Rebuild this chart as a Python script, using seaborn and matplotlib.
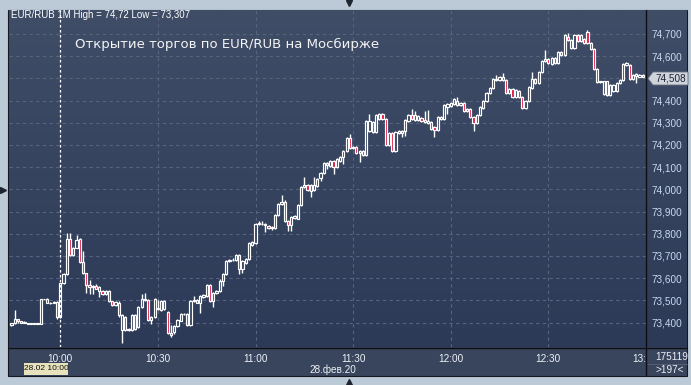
import numpy as np
import pandas as pd
import seaborn as sns
import matplotlib
matplotlib.use("Agg")
import matplotlib.pyplot as plt
from matplotlib.patches import Rectangle, Polygon
from matplotlib.colors import LinearSegmentedColormap
from matplotlib.ticker import FuncFormatter
from matplotlib.transforms import Bbox, TransformedBbox, IdentityTransform

# 1-minute candles, 28.02.2020 from 09:45
opens = [
    73.390, 73.398, 73.415, 73.405, 73.400, 73.395, 73.395, 73.395, 73.395, 73.395, 73.505, 73.505, 73.490, 73.488, 73.492,
    73.425, 73.578, 73.618, 73.775, 73.705, 73.737, 73.775, 73.673, 73.623, 73.569,
    73.562, 73.567, 73.542, 73.542, 73.530, 73.540, 73.495, 73.480, 73.490, 73.367,
    73.425, 73.367, 73.367, 73.434, 73.380, 73.470, 73.506, 73.502, 73.412, 73.425,
    73.465, 73.457, 73.460, 73.448, 73.353, 73.358, 73.385, 73.407, 73.439, 73.439,
    73.389, 73.497, 73.502, 73.490, 73.515, 73.520, 73.569, 73.497, 73.533, 73.542,
    73.588, 73.619, 73.678, 73.680, 73.682, 73.705, 73.642, 73.670, 73.687, 73.750,
    73.759, 73.845, 73.842, 73.838, 73.835, 73.825, 73.826, 73.885, 73.935, 73.945,
    73.857, 73.840, 73.870, 73.868, 73.930, 74.011, 74.020, 74.020, 73.997, 74.016,
    74.051, 74.074, 74.119, 74.106, 74.128, 74.101, 74.128, 74.146, 74.173, 74.232,
    74.187, 74.191, 74.164, 74.173, 74.155, 74.263, 74.304, 74.259, 74.317, 74.340,
    74.317, 74.200, 74.254, 74.173, 74.255, 74.256, 74.263, 74.308, 74.335, 74.313,
    74.313, 74.322, 74.305, 74.300, 74.304, 74.281, 74.268, 74.318, 74.318, 74.371,
    74.375, 74.385, 74.398, 74.380, 74.389, 74.353, 74.362, 74.326, 74.299, 74.335,
    74.367, 74.398, 74.434, 74.457, 74.493, 74.493, 74.506, 74.493, 74.434, 74.452,
    74.416, 74.443, 74.416, 74.367, 74.398, 74.457, 74.497, 74.479, 74.529, 74.578,
    74.587, 74.565, 74.591, 74.569, 74.619, 74.605, 74.686, 74.637, 74.637, 74.695,
    74.669, 74.677, 74.709, 74.660, 74.633, 74.542, 74.482, 74.430, 74.486, 74.425,
    74.443, 74.443, 74.479, 74.493, 74.560, 74.560, 74.497, 74.511, 74.508, 74.515,
]
highs = [
    73.400, 73.455, 73.418, 73.408, 73.405, 73.396, 73.396, 73.396, 73.396, 73.508, 73.506, 73.510, 73.492, 73.495, 73.495,
    73.580, 73.622, 73.802, 73.805, 73.740, 73.795, 73.780, 73.722, 73.625, 73.592,
    73.570, 73.572, 73.565, 73.545, 73.545, 73.545, 73.498, 73.495, 73.495, 73.440,
    73.430, 73.375, 73.438, 73.438, 73.475, 73.529, 73.533, 73.506, 73.428, 73.510,
    73.502, 73.500, 73.502, 73.452, 73.389, 73.389, 73.415, 73.442, 73.442, 73.442,
    73.500, 73.520, 73.505, 73.522, 73.528, 73.572, 73.573, 73.536, 73.545, 73.595,
    73.622, 73.682, 73.688, 73.690, 73.708, 73.710, 73.682, 73.690, 73.762, 73.766,
    73.848, 73.858, 73.858, 73.850, 73.840, 73.835, 73.888, 73.938, 73.975, 73.950,
    73.860, 73.880, 73.884, 73.934, 74.015, 74.056, 74.024, 74.024, 74.056, 74.050,
    74.078, 74.122, 74.125, 74.132, 74.132, 74.140, 74.150, 74.177, 74.236, 74.250,
    74.196, 74.196, 74.177, 74.177, 74.312, 74.340, 74.308, 74.340, 74.344, 74.344,
    74.320, 74.258, 74.258, 74.263, 74.267, 74.267, 74.316, 74.340, 74.362, 74.353,
    74.334, 74.326, 74.353, 74.358, 74.308, 74.285, 74.330, 74.330, 74.384, 74.389,
    74.393, 74.411, 74.416, 74.393, 74.393, 74.366, 74.366, 74.330, 74.339, 74.375,
    74.402, 74.438, 74.461, 74.501, 74.515, 74.510, 74.524, 74.497, 74.456, 74.456,
    74.452, 74.447, 74.420, 74.402, 74.465, 74.529, 74.501, 74.533, 74.582, 74.628,
    74.591, 74.595, 74.595, 74.623, 74.623, 74.699, 74.705, 74.677, 74.699, 74.699,
    74.699, 74.680, 74.720, 74.664, 74.637, 74.546, 74.490, 74.490, 74.490, 74.474,
    74.474, 74.483, 74.497, 74.569, 74.574, 74.564, 74.519, 74.524, 74.521, 74.519,
]
lows = [
    73.385, 73.395, 73.400, 73.398, 73.397, 73.394, 73.394, 73.394, 73.394, 73.393, 73.504, 73.488, 73.485, 73.486, 73.415,
    73.420, 73.575, 73.615, 73.700, 73.700, 73.735, 73.668, 73.620, 73.533, 73.530,
    73.530, 73.550, 73.515, 73.522, 73.525, 73.492, 73.475, 73.475, 73.425, 73.307,
    73.362, 73.360, 73.362, 73.368, 73.375, 73.466, 73.498, 73.405, 73.392, 73.420,
    73.455, 73.452, 73.455, 73.348, 73.335, 73.350, 73.380, 73.405, 73.432, 73.385,
    73.385, 73.492, 73.488, 73.443, 73.512, 73.515, 73.493, 73.470, 73.530, 73.538,
    73.565, 73.615, 73.675, 73.676, 73.678, 73.620, 73.625, 73.665, 73.683, 73.745,
    73.755, 73.838, 73.838, 73.810, 73.820, 73.818, 73.822, 73.880, 73.930, 73.852,
    73.812, 73.812, 73.866, 73.865, 73.926, 74.008, 73.994, 73.965, 73.994, 74.012,
    74.036, 74.070, 74.090, 74.100, 74.070, 74.098, 74.125, 74.115, 74.170, 74.183,
    74.183, 74.160, 74.124, 74.150, 74.150, 74.258, 74.254, 74.255, 74.313, 74.313,
    74.195, 74.196, 74.168, 74.168, 74.250, 74.235, 74.240, 74.305, 74.313, 74.310,
    74.308, 74.304, 74.300, 74.296, 74.268, 74.236, 74.263, 74.314, 74.314, 74.340,
    74.371, 74.380, 74.376, 74.376, 74.349, 74.349, 74.322, 74.263, 74.295, 74.331,
    74.362, 74.394, 74.430, 74.453, 74.489, 74.489, 74.489, 74.430, 74.430, 74.412,
    74.412, 74.412, 74.362, 74.362, 74.394, 74.453, 74.475, 74.475, 74.525, 74.574,
    74.565, 74.561, 74.565, 74.565, 74.600, 74.600, 74.669, 74.633, 74.633, 74.665,
    74.665, 74.655, 74.655, 74.629, 74.538, 74.480, 74.478, 74.426, 74.421, 74.421,
    74.439, 74.439, 74.475, 74.489, 74.556, 74.493, 74.493, 74.479, 74.504, 74.504,
]
closes = [
    73.398, 73.415, 73.405, 73.400, 73.402, 73.395, 73.395, 73.395, 73.395, 73.505, 73.505, 73.490, 73.487, 73.492, 73.425,
    73.578, 73.618, 73.775, 73.705, 73.737, 73.772, 73.673, 73.623, 73.569, 73.562,
    73.567, 73.553, 73.560, 73.530, 73.540, 73.495, 73.480, 73.492, 73.435, 73.434,
    73.367, 73.372, 73.434, 73.372, 73.470, 73.506, 73.502, 73.412, 73.425, 73.506,
    73.460, 73.497, 73.497, 73.353, 73.345, 73.385, 73.412, 73.439, 73.437, 73.389,
    73.497, 73.502, 73.490, 73.520, 73.525, 73.569, 73.497, 73.533, 73.542, 73.588,
    73.619, 73.678, 73.682, 73.684, 73.705, 73.642, 73.678, 73.687, 73.759, 73.763,
    73.845, 73.848, 73.846, 73.844, 73.826, 73.830, 73.885, 73.935, 73.943, 73.857,
    73.840, 73.876, 73.880, 73.930, 74.011, 74.020, 73.997, 73.993, 74.020, 74.047,
    74.074, 74.119, 74.110, 74.128, 74.101, 74.137, 74.146, 74.173, 74.232, 74.187,
    74.192, 74.164, 74.173, 74.155, 74.308, 74.308, 74.259, 74.335, 74.340, 74.317,
    74.200, 74.254, 74.173, 74.259, 74.263, 74.263, 74.313, 74.335, 74.317, 74.335,
    74.330, 74.308, 74.313, 74.308, 74.272, 74.268, 74.326, 74.326, 74.380, 74.385,
    74.389, 74.407, 74.380, 74.389, 74.353, 74.362, 74.326, 74.299, 74.335, 74.371,
    74.398, 74.434, 74.457, 74.497, 74.497, 74.506, 74.493, 74.434, 74.452, 74.416,
    74.448, 74.416, 74.367, 74.398, 74.461, 74.497, 74.479, 74.529, 74.578, 74.587,
    74.569, 74.591, 74.569, 74.619, 74.605, 74.695, 74.673, 74.673, 74.695, 74.669,
    74.695, 74.660, 74.660, 74.633, 74.542, 74.484, 74.486, 74.486, 74.425, 74.470,
    74.470, 74.479, 74.493, 74.565, 74.569, 74.497, 74.515, 74.520, 74.517, 74.508,
]

price_ticks = [73.4, 73.5, 73.6, 73.7, 73.8, 73.9, 74.0, 74.1, 74.2, 74.3, 74.4, 74.5, 74.6, 74.7]
# the 13:00 label is cut by the price panel, only "13:" shows
time_ticks = ["10:00", "10:30", "11:00", "11:30", "12:00", "12:30", "13:"]
header = "EUR/RUB 1M High = 74,72 Low = 73,307"
caption = "Открытие торгов по EUR/RUB на Мосбирже"
last_price = "74,508"
cursor_label = "28.02 10:00"
date_label = "28.фев.20"
volume_label = "175119"
count_label = ">197<"

times = pd.date_range("2020-02-28 09:45", periods=len(closes), freq="min")
df = pd.DataFrame({"time": times, "open": opens, "high": highs, "low": lows, "close": closes})
df["m"] = (df["time"] - pd.Timestamp("2020-02-28 10:00")).dt.total_seconds() / 60
df["up"] = df["close"] >= df["open"]
df["body_lo"] = df[["open", "close"]].min(axis=1)
df["body_h"] = (df["close"] - df["open"]).abs().clip(lower=0.002)

sns.set_style("dark")
plt.rcParams["font.family"] = ["Liberation Sans", "DejaVu Sans"]

W, H = 691, 385
fig = plt.figure(figsize=(W / 100, H / 100), dpi=100)
fig.patch.set_facecolor("#bccad8")


def rect(x0, y0, x1, y1):
    return [x0 / W, 1 - y1 / H, (x1 - x0) / W, (y1 - y0) / H]


# background panel (pixel coords)
bg = fig.add_axes([0, 0, 1, 1], zorder=0)
bg.add_patch(Rectangle((8.5, 9.5), 679, 366, facecolor="#39455d", edgecolor="#15181f", lw=0.8))
grad = np.linspace(0, 1, 256).reshape(-1, 1)
cmap = LinearSegmentedColormap.from_list("bg", ["#404d67", "#2c3a57"])
bg.imshow(grad, extent=(9, 687, 347, 10), cmap=cmap, aspect="auto", zorder=1)
bg.set_xlim(0, W)
bg.set_ylim(H, 0)
bg.axis("off")

# candles
ax = fig.add_axes(rect(9, 10, 646, 347), zorder=1)
ax.set_facecolor("none")
ax.vlines(df["m"], df["low"], df["high"], color="white", lw=1.0, zorder=2)
ax.bar(df["m"], df["body_h"], bottom=df["body_lo"], width=0.68,
       color=np.where(df["up"], "#34415c", "#dc1640"), edgecolor="white", linewidth=0.85, zorder=3)
ax.axvline(0, color="white", lw=0.9, ls=(0, (2, 2)), zorder=4)

ax.set_xlim(-15.75, 179.1)
ax.set_ylim(73.290, 74.808)
ax.set_yticks(price_ticks)
# the 74,500 label sits under the last-price tag
ax.yaxis.set_major_formatter(FuncFormatter(
    lambda v, _: "" if abs(v - 74.5) < 1e-6 else f"{v:.3f}".replace(".", ",")))
ax.yaxis.tick_right()
ax.set_xticks(range(0, 181, 30), time_ticks)
ax.grid(True, color="#58647d", lw=0.8, ls=(0, (3, 3)))
ax.tick_params(axis="y", length=0, pad=4, labelsize=7.2, labelcolor="#c8d8ee")
ax.tick_params(axis="x", length=0, pad=5, labelsize=7.2, labelcolor="#eef2f8")
for s in ax.spines.values():
    s.set_visible(False)

last = ax.get_xticklabels()[-1]
last.set_horizontalalignment("right")
last.set_clip_box(TransformedBbox(Bbox([[0, 0], [647, H]]), IdentityTransform()))
last.set_clip_on(True)

# overlay decorations
top = fig.add_axes([0, 0, 1, 1], zorder=2)
top.set_xlim(0, W)
top.set_ylim(H, 0)
top.axis("off")
top.plot([646.5, 646.5], [10, 375], color="#0d0f14", lw=1)
top.plot([9, 687], [347.5, 347.5], color="#0d0f14", lw=1)
top.plot([648, 687], [363.5, 363.5], color="#5a6478", lw=0.6)

top.text(11, 15, header, color="white", fontsize=7, va="center", ha="left")
top.text(75, 44, caption, color="#f4f4f4", fontsize=9.5, va="center", ha="left",
         family=["DejaVu Sans"])

top.add_patch(Polygon([[648, 78.5], [653, 72], [688, 72], [688, 85], [653, 85]],
                      closed=True, facecolor="#cfd3da", edgecolor="#6a7282", lw=0.6))
top.text(670.5, 78.5, last_price, color="#1a2338", fontsize=7.2, va="center", ha="center")

top.add_patch(Rectangle((24, 362.5), 44, 12, facecolor="#e6e2bc", edgecolor="none"))
top.text(46, 369, cursor_label, color="#111111", fontsize=6, va="center", ha="center")
top.text(333, 370, date_label, color="#eef2f8", fontsize=7.2, va="center", ha="center")
top.text(672, 357, volume_label, color="#eef2f8", fontsize=7.2, va="center", ha="center")
top.text(670, 370, count_label, color="#eef2f8", fontsize=7.2, va="center", ha="center")

top.plot(349, 3, marker="v", color="#1e2430", ms=5)
top.plot(349, 382, marker="^", color="#1e2430", ms=5)
top.plot(3, 190, marker=">", color="#1e2430", ms=5)

fig.savefig("out.png", dpi=100, facecolor=fig.get_facecolor())
